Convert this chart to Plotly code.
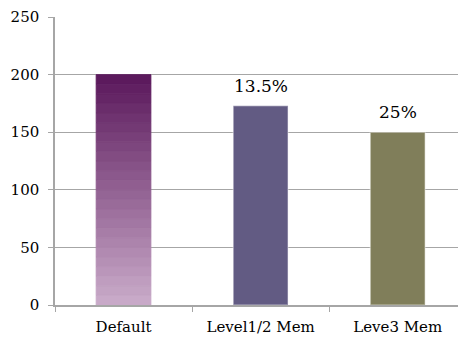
import plotly.graph_objects as go

# Chart data
categories = ["Default", "Level1/2 Mem", "Leve3 Mem"]
values = [200, 173, 150]
reduction_labels = ["", "13.5%", "25%"]
y_ticks = [0, 50, 100, 150, 200, 250]

SERIF = "DejaVu Serif, Liberation Serif, serif"

def mix(c1, c2, t):
    return "#%02x%02x%02x" % tuple(round(a + (b - a) * t) for a, b in zip(c1, c2))

fig = go.Figure()

# Default bar: drawn as thin stacked bands for a vertical colour fade
n_bands = 24
top_rgb = (0x5c, 0x1a, 0x5d)
bottom_rgb = (0xc8, 0xa9, 0xc8)
band = values[0] / n_bands
band_colors = [mix(bottom_rgb, top_rgb, i / (n_bands - 1)) for i in range(n_bands)]
fig.add_trace(go.Bar(
    x=[categories[0]] * n_bands,
    y=[band] * n_bands,
    base=[i * band for i in range(n_bands)],
    marker=dict(color=band_colors, line=dict(color=band_colors, width=0.8)),
    width=0.40,
    hoverinfo="skip",
    showlegend=False,
))

# Remaining bars, flat colours
fig.add_trace(go.Bar(
    x=categories[1:],
    y=values[1:],
    marker=dict(color=["#625b83", "#807e5a"],
                line=dict(color="rgba(255,255,255,0.35)", width=1.5)),
    width=0.40,
    showlegend=False,
))

# Reduction labels above the bars
for cat, val, lab in zip(categories, values, reduction_labels):
    if lab:
        fig.add_annotation(x=cat, y=val, text=lab, showarrow=False,
                           yanchor="bottom", yshift=8,
                           font=dict(family=SERIF, size=17, color="#000000"))

fig.update_layout(
    width=458, height=337,
    margin=dict(l=55, r=0, t=17, b=32),
    paper_bgcolor="white", plot_bgcolor="white",
    barmode="overlay",
    font=dict(family=SERIF, size=14, color="#000000"),
)
fig.update_xaxes(
    type="category",
    categoryorder="array", categoryarray=categories,
    range=[-0.5, 2.44],
    showline=True, linecolor="#a6a6a6", linewidth=1.5,
    ticks="outside", tickson="boundaries", ticklen=5, tickcolor="#a6a6a6",
    ticklabelstandoff=7,
    showgrid=False,
    tickfont=dict(family=SERIF, size=15, color="#000000"),
)
fig.update_yaxes(
    range=[0, 250], tickvals=y_ticks,
    showline=True, linecolor="#a6a6a6", linewidth=1.5,
    ticks="outside", ticklen=5, tickcolor="#a6a6a6",
    ticklabelstandoff=6,
    showgrid=True, gridcolor="#a6a6a6", gridwidth=1.2,
    zeroline=False,
    tickfont=dict(family=SERIF, size=15, color="#000000"),
)

fig.write_html("out.html")
